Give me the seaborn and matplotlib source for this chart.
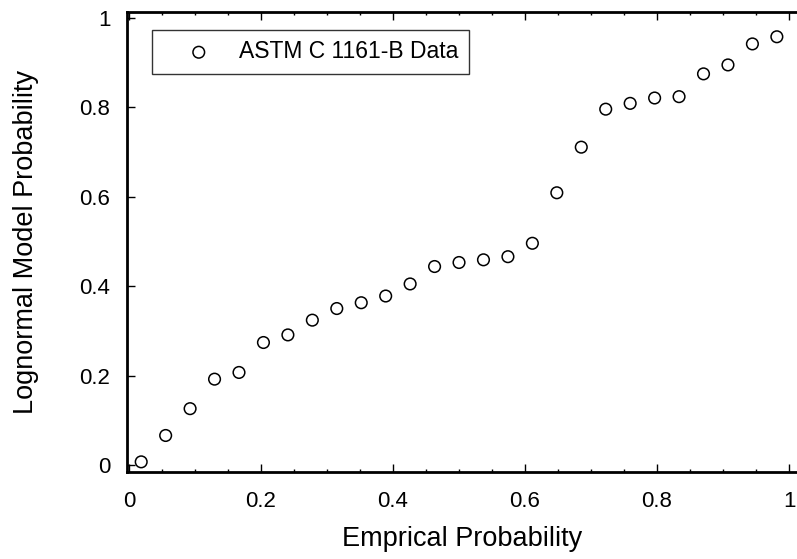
import numpy as np
import pandas as pd
import matplotlib
matplotlib.use('Agg')
import matplotlib.pyplot as plt
import seaborn as sns
from matplotlib.ticker import MultipleLocator

# empirical (rank) probability vs lognormal model probability, 27 specimens
empirical_prob = [(i - 0.5) / 27 for i in range(1, 28)]
model_prob = [0.007, 0.066, 0.126, 0.192, 0.207, 0.274, 0.291, 0.324, 0.350,
              0.363, 0.378, 0.405, 0.444, 0.453, 0.459, 0.466, 0.496, 0.609,
              0.711, 0.796, 0.809, 0.821, 0.824, 0.875, 0.895, 0.942, 0.958]
series_label = 'ASTM C 1161-B Data'

df = pd.DataFrame({'x': empirical_prob, 'y': model_prob})

sns.set_style("ticks")
plt.rcParams['font.family'] = ['Liberation Sans', 'DejaVu Sans']
plt.rcParams['text.color'] = 'black'
plt.rcParams['axes.labelcolor'] = 'black'
plt.rcParams['xtick.color'] = 'black'
plt.rcParams['ytick.color'] = 'black'

fig = plt.figure(figsize=(7.97, 5.59), dpi=100)
ax = fig.add_axes([127 / 797, 1 - 472 / 559, 670 / 797, 460 / 559])

sns.scatterplot(data=df, x='x', y='y', ax=ax, marker='o', s=70,
                facecolors='none', edgecolor='black', linewidth=1.1,
                label=series_label)

ax.set_xlim(-0.003, 1.012)
ax.set_ylim(-0.0157, 1.0134)
ax.xaxis.set_major_locator(MultipleLocator(0.2))
ax.xaxis.set_minor_locator(MultipleLocator(0.05))
ax.yaxis.set_major_locator(MultipleLocator(0.2))
ax.xaxis.set_major_formatter(plt.FuncFormatter(lambda v, p: f'{v:g}'))
ax.yaxis.set_major_formatter(plt.FuncFormatter(lambda v, p: f'{v:g}'))

ax.tick_params(axis='x', which='both', direction='in', top=True, bottom=True,
               labelsize=16, pad=14, width=1)
ax.tick_params(axis='x', which='major', length=6)
ax.tick_params(axis='x', which='minor', length=2.5)
ax.tick_params(axis='y', which='major', direction='in', left=True, right=False,
               labelsize=16, pad=12, length=6, width=1)

for side in ['left', 'bottom', 'top']:
    ax.spines[side].set_linewidth(2)
    ax.spines[side].set_color('black')
ax.spines['right'].set_visible(False)

ax.set_xlabel('Emprical Probability', fontsize=19.5, labelpad=10)
ax.set_ylabel('Lognormal Model Probability', fontsize=19.5, labelpad=29)

leg = ax.legend(loc='upper left', bbox_to_anchor=(0.037, 0.961), borderaxespad=0,
                fontsize=16.5, frameon=True, fancybox=False, handlelength=3.2,
                handletextpad=0.15, borderpad=0.45)
leg.get_frame().set_edgecolor('black')
leg.get_frame().set_linewidth(1)

plt.savefig('out.png', dpi=100)
plt.close()
